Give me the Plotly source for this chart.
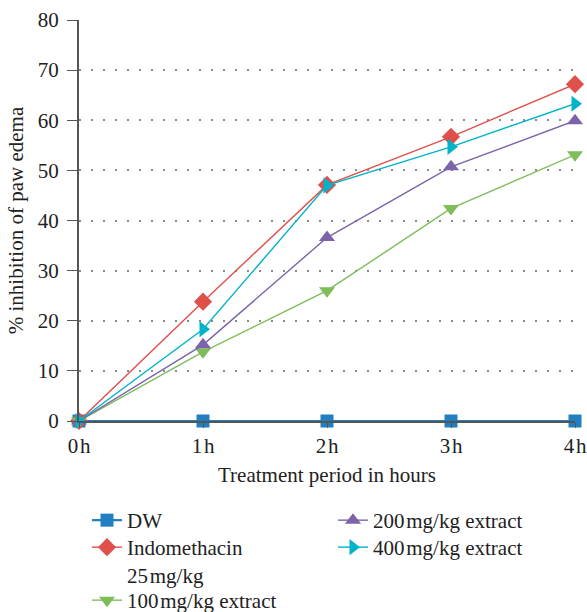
import plotly.graph_objects as go

hours = [0, 1, 2, 3, 4]
tick_labels = ["0\u200ah", "1\u200ah", "2\u200ah", "3\u200ah", "4\u200ah"]
y_ticks = [0, 10, 20, 30, 40, 50, 60, 70, 80]

dw = [0, 0, 0, 0, 0]
indomethacin = [0, 23.8, 47.1, 56.7, 67.2]
ext100 = [0, 13.8, 26.0, 42.4, 53.1]
ext200 = [0, 15.2, 36.6, 50.7, 59.9]
ext400 = [0, 18.3, 47.0, 54.7, 63.3]

FONT = "Liberation Serif"
FS = 21
W, H = 587, 612

fig = go.Figure()

# legend placement (page pixels: text-left x, item centre y)
series = [
    ("DW", dw, "#1f7fc1", "square", 2.2, "legend", 127, 520),
    ("Indomethacin<br>25\u200amg/kg", indomethacin, "#e0504b", "diamond", 1.4, "legend2", 127, 547),
    ("100\u200amg/kg extract", ext100, "#7dbd5a", "triangle-down", 1.4, "legend3", 127, 600),
    ("200\u200amg/kg extract", ext200, "#7c63aa", "triangle-up", 1.4, "legend4", 373, 520),
    ("400\u200amg/kg extract", ext400, "#00b3c9", "triangle-right", 1.4, "legend5", 373, 547),
]

legends = {}
for name, vals, color, sym, lw, leg, tx, cy in series:
    fig.add_trace(go.Scatter(
        x=hours, y=vals, name=name, mode="lines+markers",
        line=dict(color=color, width=lw),
        marker=dict(symbol=sym, size=14 if sym != "square" else 13, color=color),
        cliponaxis=False, legend=leg, showlegend=True,
    ))
    legends[leg] = dict(
        xref="container", yref="container", orientation="h", visible=True,
        x=(tx - 40) / W, y=1 - (cy - 20) / H,
        xanchor="left", yanchor="top",
        font=dict(size=FS), valign="top", bgcolor="rgba(0,0,0,0)",
    )

fig.update_layout(
    width=W, height=H, showlegend=True,
    margin=dict(l=79, r=W - 575, t=20, b=H - 421, autoexpand=False),
    plot_bgcolor="white", paper_bgcolor="white",
    font=dict(family=FONT, size=FS, color="#222"),
    xaxis=dict(
        range=[0, 4], tickvals=hours, ticktext=tick_labels,
        showgrid=False, zeroline=False, showline=True, linecolor="#555", linewidth=1.5,
        ticks="outside", ticklen=5, tickcolor="#555",
        title=dict(text="Treatment period in hours", font=dict(size=FS), standoff=10),
        tickfont=dict(size=FS),
    ),
    yaxis=dict(
        range=[0, 80], tickvals=y_ticks,
        showgrid=True, gridcolor="#8a8a8a", griddash="2px,10px", gridwidth=1.5,
        zeroline=False, showline=True, linecolor="#555", linewidth=2,
        ticks="outside", ticklen=10, tickcolor="#555", ticklabelstandoff=4,
        title=dict(text="% inhibition of paw edema", font=dict(size=FS), standoff=8),
        tickfont=dict(size=FS),
    ),
    **legends,
)

fig.write_html(
    "out.html",
    config={"displayModeBar": False},
    post_script="document.body.style.margin='0';document.body.style.overflow='hidden';",
)
